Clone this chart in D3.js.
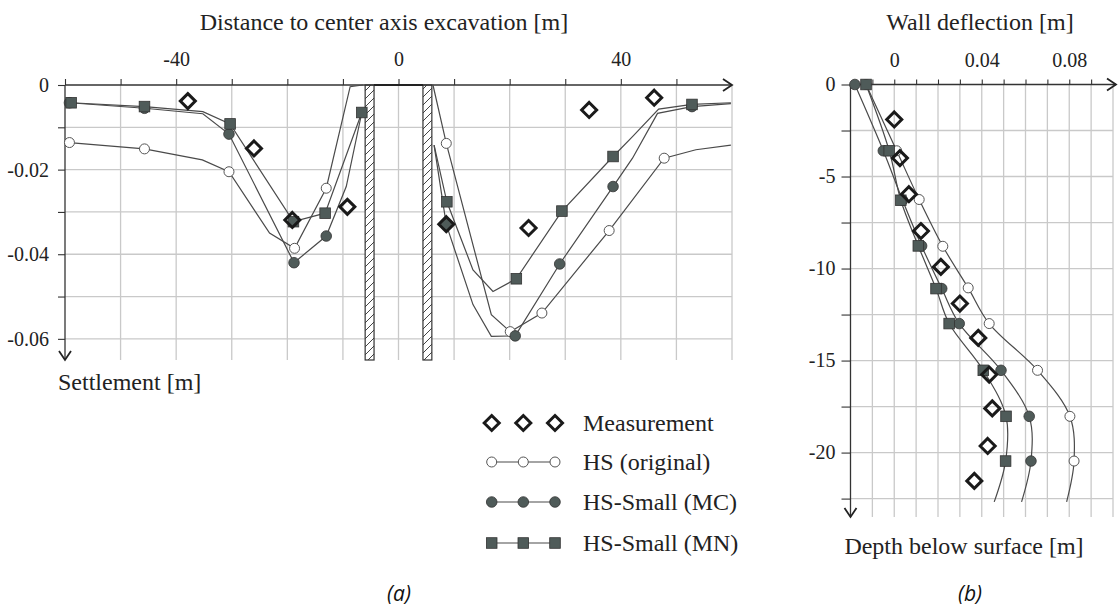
<!DOCTYPE html>
<html>
<head>
<meta charset="utf-8">
<script src="https://cdn.jsdelivr.net/npm/d3@7"></script>
<style>
  body { margin: 0; background: #fff; }
  svg { display: block; }
  .lab { font-family: "Liberation Serif", "DejaVu Serif", serif; fill: #222; }
</style>
</head>
<body>
<svg width="1119" height="609"></svg>
<script>
// ---- (a) settlement behind the wall ----
// measured points, [distance m, settlement m]
const settleMeas = [[-37.9, -0.0038], [-26.0, -0.0150], [-19.1, -0.0319], [-9.2, -0.0288],
    [8.6, -0.0329], [23.4, -0.0338], [34.3, -0.0059], [46.0, -0.0030]];

// HS (original), left side and right side of the pit
const settleHsLeft = [[-59.2, -0.0136], [-45.7, -0.0151], [-35.3, -0.0177], [-30.5, -0.0205],
    [-23.2, -0.0350], [-18.7, -0.0386], [-13.0, -0.0244], [-8.7, -0.0004], [-6.4, 0]];
const settleHsRight = [[6.2, 0], [8.6, -0.0138], [16.7, -0.0543], [20.1, -0.0583], [25.8, -0.0539],
    [37.9, -0.0344], [47.8, -0.0173], [53.5, -0.0153], [59.8, -0.0142]];
const settleHsMarks = [[-59.2, -0.0136], [-45.7, -0.0151], [-30.5, -0.0205], [-18.7, -0.0386], [-13.0, -0.0244],
    [8.6, -0.0138], [20.1, -0.0583], [25.8, -0.0539], [37.9, -0.0344], [47.8, -0.0173]];

// HS-Small (MC)
const settleMcLeft = [[-59.2, -0.0042], [-45.7, -0.0055], [-35.2, -0.0068], [-30.5, -0.0116],
    [-18.8, -0.0420], [-13.0, -0.0357], [-9.4, -0.0240], [-6.6, -0.0065]];
const settleMcRight = [[6.4, -0.0142], [8.6, -0.0330], [13.4, -0.0519], [16.7, -0.0594], [21.0, -0.0593],
    [29.0, -0.0423], [38.6, -0.0240], [42.1, -0.0173], [46.6, -0.0067], [52.8, -0.0051], [59.8, -0.0044]];
const settleMcMarks = [[-59.2, -0.0042], [-45.7, -0.0055], [-30.5, -0.0116], [-18.8, -0.0420], [-13.0, -0.0357],
    [8.6, -0.0330], [21.0, -0.0593], [29.0, -0.0423], [38.6, -0.0240], [52.8, -0.0051]];

// HS-Small (MN)
const settleMnLeft = [[-58.9, -0.0042], [-45.7, -0.0051], [-35.2, -0.0063], [-30.3, -0.0092],
    [-18.9, -0.0323], [-13.2, -0.0303], [-6.6, -0.0065]];
const settleMnRight = [[6.4, -0.0142], [8.7, -0.0276], [13.4, -0.0437], [17.0, -0.0488], [21.2, -0.0458],
    [29.4, -0.0298], [38.6, -0.0169], [42.1, -0.0122], [46.8, -0.0057], [52.8, -0.0046], [59.8, -0.0042]];
const settleMnMarks = [[-58.9, -0.0042], [-45.7, -0.0051], [-30.3, -0.0092], [-18.9, -0.0323], [-13.2, -0.0303],
    [-6.6, -0.0065], [8.7, -0.0276], [21.2, -0.0458], [29.4, -0.0298], [38.6, -0.0169], [52.8, -0.0046]];

// diaphragm walls, [from, to] in m
const walls = [[-6.0, -4.4], [4.4, 6.0]];

const distTicks = [-60, -50, -40, -30, -20, -10, 0, 10, 20, 30, 40, 50];
const distLabels = [-40, 0, 40];
const settleTicks = [0, -0.01, -0.02, -0.03, -0.04, -0.05, -0.06];
const settleLabels = [0, -0.02, -0.04, -0.06];

// ---- (b) wall deflection, [deflection m, depth m] ----
const deflMeas = [[0.0000, -1.9], [0.0026, -4.0], [0.0067, -5.96], [0.0122, -7.96], [0.0213, -9.91],
    [0.0300, -11.9], [0.0384, -13.77], [0.0434, -15.76], [0.0448, -17.6], [0.0427, -19.64], [0.0366, -21.54]];
const deflHs = [[-0.0129, 0], [0.0011, -3.6], [0.0114, -6.25], [0.0222, -8.79], [0.0338, -11.05],
    [0.0434, -12.99], [0.0655, -15.53], [0.0803, -18.03], [0.0822, -20.46], [0.0788, -22.68]];
const deflMc = [[-0.0180, 0], [-0.0050, -3.6], [0.0038, -6.29], [0.0125, -8.77], [0.0217, -11.09],
    [0.0297, -12.99], [0.0488, -15.53], [0.0617, -18.03], [0.0625, -20.46], [0.0582, -22.68]];
const deflMn = [[-0.0129, 0], [-0.0023, -3.6], [0.0030, -6.29], [0.0110, -8.77], [0.0191, -11.09],
    [0.0251, -12.99], [0.0407, -15.53], [0.0511, -18.03], [0.0509, -20.46], [0.0457, -22.68]];

const deflTicks = [-0.01, 0, 0.01, 0.02, 0.03, 0.04, 0.05, 0.06, 0.07, 0.08, 0.09];
const deflLabels = [0, 0.04, 0.08];
const depthTicks = [0, -2.5, -5, -7.5, -10, -12.5, -15, -17.5, -20, -22.5];
const depthLabels = [0, -5, -10, -15, -20];

const legendNames = ["Measurement", "HS (original)", "HS-Small (MC)", "HS-Small (MN)"];

const svg = d3.select("svg");
const gridCol = "#c9c9c9", lineCol = "#4a4a4a", markFill = "#4f5b59", markStroke = "#333";
const serif = "'Liberation Serif', 'DejaVu Serif', serif";

// hatch for walls
svg.append("defs").append("pattern")
    .attr("id", "hatch").attr("patternUnits", "userSpaceOnUse")
    .attr("width", 8).attr("height", 8)
    .append("path")
    .attr("d", "M-1,9 L9,-1 M-2,2 L2,-2 M6,10 L10,6")
    .attr("stroke", "#444").attr("stroke-width", 1);

function fmt(labels) {
    return d => labels.some(l => Math.abs(l - d) < 1e-9) ? String(d) : "";
}

function styleAxis(ax) {
    ax.select(".domain").remove();
    ax.selectAll(".tick line").attr("stroke", "#333").attr("stroke-width", 1.1);
    ax.selectAll(".tick text").style("font-family", serif).style("font-size", "20px").attr("fill", "#222");
}

function drawMarker(g, type, x, y) {
    if (type === "diamond") {
        g.append("path")
            .attr("d", `M${x},${y - 7.5} L${x + 7.5},${y} L${x},${y + 7.5} L${x - 7.5},${y} Z`)
            .attr("fill", "none").attr("stroke", "#1a1a1a").attr("stroke-width", 3);
    } else if (type === "open") {
        g.append("circle").attr("cx", x).attr("cy", y).attr("r", 5)
            .attr("fill", "#fff").attr("stroke", "#555").attr("stroke-width", 1);
    } else if (type === "dot") {
        g.append("circle").attr("cx", x).attr("cy", y).attr("r", 5.3)
            .attr("fill", markFill).attr("stroke", markStroke).attr("stroke-width", 0.8);
    } else {
        g.append("rect").attr("x", x - 5.3).attr("y", y - 5.3).attr("width", 10.6).attr("height", 10.6)
            .attr("fill", markFill).attr("stroke", markStroke).attr("stroke-width", 0.8);
    }
}

// ================= panel (a) =================
const xA = d3.scaleLinear().domain([-60, 60]).range([65, 732]);
const yA = d3.scaleLinear().domain([0, -0.065]).range([85, 360]);
const gA = svg.append("g");

// grid
gA.selectAll(".vg").data(distTicks.filter(d => d > -60).concat([60])).enter().append("line")
    .attr("x1", d => xA(d)).attr("x2", d => xA(d)).attr("y1", yA(0)).attr("y2", yA(-0.065))
    .attr("stroke", gridCol).attr("stroke-width", 1.3);
gA.selectAll(".hg").data(settleTicks.filter(d => d < 0)).enter().append("line")
    .attr("x1", xA(-60)).attr("x2", xA(60)).attr("y1", d => yA(d)).attr("y2", d => yA(d))
    .attr("stroke", gridCol).attr("stroke-width", 1.3);

// axes
const axTopA = gA.append("g").attr("transform", `translate(0,${yA(0)})`)
    .call(d3.axisTop(xA).tickValues(distTicks).tickSize(6).tickPadding(13).tickFormat(fmt(distLabels)));
styleAxis(axTopA);
const axLeftA = gA.append("g").attr("transform", `translate(${xA(-60)},0)`)
    .call(d3.axisLeft(yA).tickValues(settleTicks).tickSize(7).tickPadding(9).tickFormat(fmt(settleLabels)));
styleAxis(axLeftA);

// walls
walls.forEach(w => {
    gA.append("rect").attr("x", xA(w[0])).attr("y", yA(0))
        .attr("width", xA(w[1]) - xA(w[0])).attr("height", yA(-0.065) - yA(0))
        .attr("fill", "#fff");
    gA.append("rect").attr("x", xA(w[0])).attr("y", yA(0))
        .attr("width", xA(w[1]) - xA(w[0])).attr("height", yA(-0.065) - yA(0))
        .attr("fill", "url(#hatch)").attr("stroke", "#333").attr("stroke-width", 1.2);
});

// axis lines with arrows
gA.append("path").attr("d", `M${xA(-60)},${yA(0)} H${xA(60)}`).attr("stroke", "#333").attr("stroke-width", 1.3);
gA.append("path").attr("d", `M${xA(walls[0][1])},${yA(0)} H${xA(walls[1][0])}`).attr("stroke", "#222").attr("stroke-width", 2.2);
gA.append("path").attr("d", `M${xA(60) - 9},${yA(0) - 6} L${xA(60)},${yA(0)} L${xA(60) - 9},${yA(0) + 6}`)
    .attr("fill", "none").attr("stroke", "#222").attr("stroke-width", 1.8);
gA.append("path").attr("d", `M${xA(-60)},${yA(0)} V${yA(-0.065)}`).attr("stroke", "#333").attr("stroke-width", 1.3);
gA.append("path").attr("d", `M${xA(-60) - 6},${yA(-0.065) - 9} L${xA(-60)},${yA(-0.065)} L${xA(-60) + 6},${yA(-0.065) - 9}`)
    .attr("fill", "none").attr("stroke", "#222").attr("stroke-width", 1.8);

// series lines
const lineA = d3.line().x(d => xA(d[0])).y(d => yA(d[1]));
[settleHsLeft, settleHsRight, settleMcLeft, settleMcRight, settleMnLeft, settleMnRight].forEach(s => {
    gA.append("path").datum(s).attr("d", lineA)
        .attr("fill", "none").attr("stroke", lineCol).attr("stroke-width", 1.2);
});
settleHsMarks.forEach(d => drawMarker(gA, "open", xA(d[0]), yA(d[1])));
settleMcMarks.forEach(d => drawMarker(gA, "dot", xA(d[0]), yA(d[1])));
settleMnMarks.forEach(d => drawMarker(gA, "square", xA(d[0]), yA(d[1])));
settleMeas.forEach(d => drawMarker(gA, "diamond", xA(d[0]), yA(d[1])));

svg.append("text").attr("class", "lab").attr("x", 384).attr("y", 30)
    .attr("text-anchor", "middle").style("font-size", "24px")
    .text("Distance to center axis excavation [m]");
svg.append("text").attr("class", "lab").attr("x", 58).attr("y", 390)
    .style("font-size", "24px").text("Settlement [m]");

// ================= panel (b) =================
const xB = d3.scaleLinear().domain([-0.02, 0.10]).range([850.5, 1113]);
const yB = d3.scaleLinear().domain([0, -23.5]).range([84.5, 517]);
const gB = svg.append("g");

gB.selectAll(".vg").data(deflTicks.concat([0.10])).enter().append("line")
    .attr("x1", d => xB(d)).attr("x2", d => xB(d)).attr("y1", yB(0)).attr("y2", yB(-23.5))
    .attr("stroke", gridCol).attr("stroke-width", 1.3);
gB.selectAll(".hg").data(depthTicks.filter(d => d < 0)).enter().append("line")
    .attr("x1", xB(-0.02)).attr("x2", xB(0.10)).attr("y1", d => yB(d)).attr("y2", d => yB(d))
    .attr("stroke", gridCol).attr("stroke-width", 1.3);

const axTopB = gB.append("g").attr("transform", `translate(0,${yB(0)})`)
    .call(d3.axisTop(xB).tickValues(deflTicks).tickSize(5).tickPadding(13).tickFormat(fmt(deflLabels)));
styleAxis(axTopB);
const axLeftB = gB.append("g").attr("transform", `translate(${xB(-0.02)},0)`)
    .call(d3.axisLeft(yB).tickValues(depthTicks).tickSize(9).tickPadding(6).tickFormat(fmt(depthLabels)));
styleAxis(axLeftB);

gB.append("path").attr("d", `M${xB(-0.02)},${yB(0)} H${xB(0.10) + 3}`).attr("stroke", "#333").attr("stroke-width", 1.3);
gB.append("path").attr("d", `M${xB(0.10) - 6},${yB(0) - 6} L${xB(0.10) + 3},${yB(0)} L${xB(0.10) - 6},${yB(0) + 6}`)
    .attr("fill", "none").attr("stroke", "#222").attr("stroke-width", 1.8);
gB.append("path").attr("d", `M${xB(-0.02)},${yB(0)} V${yB(-23.5)}`).attr("stroke", "#333").attr("stroke-width", 1.3);
gB.append("path").attr("d", `M${xB(-0.02) - 6},${yB(-23.5) - 9} L${xB(-0.02)},${yB(-23.5)} L${xB(-0.02) + 6},${yB(-23.5) - 9}`)
    .attr("fill", "none").attr("stroke", "#222").attr("stroke-width", 1.8);

const lineB = d3.line().x(d => xB(d[0])).y(d => yB(d[1])).curve(d3.curveCatmullRom.alpha(0.5));
[deflHs, deflMc, deflMn].forEach(s => {
    gB.append("path").datum(s).attr("d", lineB)
        .attr("fill", "none").attr("stroke", lineCol).attr("stroke-width", 1.2);
});
deflHs.slice(0, -1).forEach(d => drawMarker(gB, "open", xB(d[0]), yB(d[1])));
deflMc.slice(0, -1).forEach(d => drawMarker(gB, "dot", xB(d[0]), yB(d[1])));
deflMn.slice(0, -1).forEach(d => drawMarker(gB, "square", xB(d[0]), yB(d[1])));
deflMeas.forEach(d => drawMarker(gB, "diamond", xB(d[0]), yB(d[1])));

svg.append("text").attr("class", "lab").attr("x", 980).attr("y", 30)
    .attr("text-anchor", "middle").style("font-size", "24px").text("Wall deflection [m]");
svg.append("text").attr("class", "lab").attr("x", 964).attr("y", 554)
    .attr("text-anchor", "middle").style("font-size", "24px").text("Depth below surface [m]");

// ================= legend =================
const legX = [491.7, 523.3, 555], legY = [423, 462, 502, 543];
const legTypes = ["diamond", "open", "dot", "square"];
const gL = svg.append("g");
legendNames.forEach((name, i) => {
    if (i > 0) {
        gL.append("line").attr("x1", legX[0]).attr("x2", legX[2]).attr("y1", legY[i]).attr("y2", legY[i])
            .attr("stroke", lineCol).attr("stroke-width", 1.2);
    }
    legX.forEach(x => drawMarker(gL, legTypes[i], x, legY[i]));
    gL.append("text").attr("class", "lab").attr("x", 583).attr("y", legY[i] + 8)
        .style("font-size", "24px").text(name);
});

// panel captions
svg.append("text").attr("x", 399).attr("y", 601).attr("text-anchor", "middle")
    .style("font-family", "'Open Sans', sans-serif").style("font-style", "italic").style("font-size", "21px")
    .attr("fill", "#111").text("(a)");
svg.append("text").attr("x", 970).attr("y", 601).attr("text-anchor", "middle")
    .style("font-family", "'Open Sans', sans-serif").style("font-style", "italic").style("font-size", "21px")
    .attr("fill", "#111").text("(b)");
</script>
</body>
</html>
